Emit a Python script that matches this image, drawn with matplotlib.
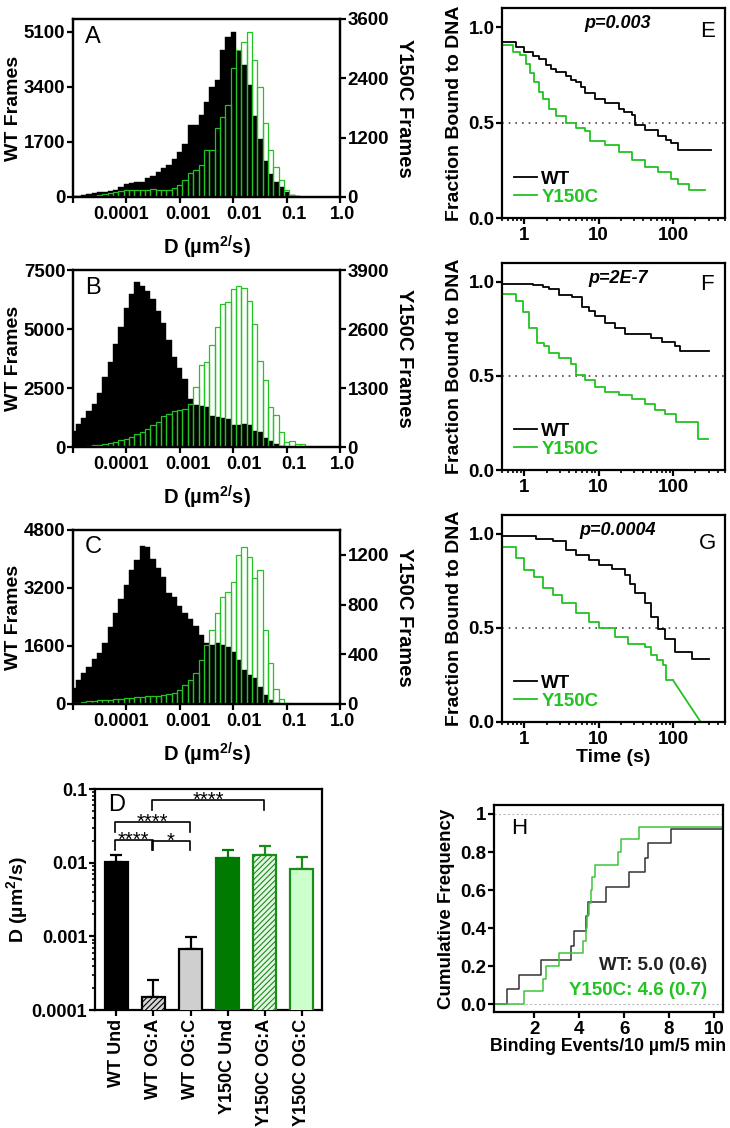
import matplotlib
matplotlib.use("Agg")
import matplotlib.pyplot as plt
import numpy as np
from matplotlib.ticker import NullLocator, LogLocator, NullFormatter
from matplotlib.transforms import ScaledTranslation

plt.rcParams['font.family'] = ['Liberation Sans', 'DejaVu Sans']
plt.rcParams['font.weight'] = 'bold'
plt.rcParams['axes.labelweight'] = 'bold'
plt.rcParams['axes.linewidth'] = 1.6
plt.rcParams['xtick.major.width'] = 1.6
plt.rcParams['ytick.major.width'] = 1.6
plt.rcParams['xtick.minor.width'] = 1.2
plt.rcParams['ytick.minor.width'] = 1.2
plt.rcParams['xtick.major.size'] = 4
plt.rcParams['ytick.major.size'] = 4
plt.rcParams['xtick.minor.size'] = 2.5
plt.rcParams['ytick.minor.size'] = 2.5
plt.rcParams['xtick.major.pad'] = 2.5
plt.rcParams['ytick.major.pad'] = 1.5
plt.rcParams['mathtext.fontset'] = 'custom'
plt.rcParams['mathtext.rm'] = 'Liberation Sans:bold'
plt.rcParams['mathtext.bf'] = 'Liberation Sans:bold'
plt.rcParams['mathtext.it'] = 'Liberation Sans:bold:italic'
plt.rcParams['hatch.linewidth'] = 0.8

GREEN = '#22c322'
DKGREEN = '#1a8c1a'

# ---- histograms (A-C): frames per bin, 10 bins per decade centred on 10^(-5 + k/10)
bin_exp = np.round(np.arange(-5.0, 0.001, 0.1), 2)

a_wt = [15, 30, 60, 90, 130, 140, 160, 190, 230, 300,
        390, 430, 470, 470, 580, 650, 770, 890, 1000, 1170,
        1400, 1640, 2220, 2220, 2530, 2940, 3400, 3620, 4540, 4950,
        5100, 4500, 4080, 3460, 2500, 1800, 1120, 700, 460, 300,
        160, 60, 15, 0, 0, 0, 0, 0, 0, 0, 0]
a_y150c = [0, 3, 5, 10, 20, 40, 60, 80, 100, 120,
           140, 150, 150, 140, 150, 160, 150, 140, 150, 180,
           240, 340, 480, 545, 650, 950, 950, 1390, 1620, 1860,
           2600, 2970, 3140, 3340, 2770, 2220, 1490, 950, 610, 340,
           140, 40, 10, 0, 0, 0, 0, 0, 0, 0, 0]

b_wt = [700, 990, 1250, 1520, 1830, 2300, 2950, 3620, 4350, 5080,
        5900, 6500, 6980, 6830, 6620, 6280, 5750, 5250, 4550, 3800,
        3350, 2900, 2050, 1800, 1740, 1700, 1300, 1270, 1250, 1200,
        950, 930, 970, 930, 700, 640, 400, 250, 120, 40,
        0, 0, 0, 0, 0, 0, 0, 0, 0, 0, 0]
b_y150c = [0, 5, 10, 30, 40, 50, 60, 80, 110, 150,
           180, 220, 290, 330, 400, 480, 550, 680, 730, 790,
           810, 840, 950, 1320, 1810, 1870, 2250, 2640, 3150, 3200,
           3480, 3540, 3500, 3225, 2710, 1905, 1466, 880, 700, 330,
           110, 125, 60, 73, 0, 0, 0, 0, 0, 0, 0]

c_wt = [450, 660, 850, 1030, 1240, 1400, 1675, 2130, 2500, 2890,
        3280, 3700, 3970, 4360, 4320, 3990, 3740, 3510, 3050, 2960,
        2700, 2500, 2330, 2150, 1900, 1675, 1630, 1675, 1630, 1580,
        1440, 1215, 940, 800, 720, 480, 250, 100, 30, 0,
        0, 0, 0, 0, 0, 0, 0, 0, 0, 0, 0]
c_y150c = [5, 10, 15, 20, 25, 30, 33, 36, 40, 44,
           48, 52, 55, 58, 62, 65, 68, 72, 78, 88,
           110, 150, 193, 247, 354, 475, 596, 730, 864, 904,
           985, 1200, 1260, 1186, 1012, 1079, 596, 333, 118, 40,
           10, 0, 0, 0, 0, 0, 0, 0, 0, 0, 0]

hist_panels = [
    ('A', a_wt, a_y150c, 5500, [0, 1700, 3400, 5100], 3600, [0, 1200, 2400, 3600]),
    ('B', b_wt, b_y150c, 7500, [0, 2500, 5000, 7500], 3900, [0, 1300, 2600, 3900]),
    ('C', c_wt, c_y150c, 4800, [0, 1600, 3200, 4800], 1400, [0, 400, 800, 1200]),
]
hist_rects = [[0.1, 0.8254, 0.3658, 0.1578],
              [0.1, 0.6037, 0.3658, 0.1569],
              [0.1, 0.3759, 0.3658, 0.1543]]
d_ticks = [1e-5, 1e-4, 1e-3, 1e-2, 1e-1, 1.0]
d_ticklabels = ['', '0.0001', '0.001', '0.01', '0.1', '1.0']
d_label_shift = [0, -5, 8, 11, 7, 2]   # px nudges, as in the source figure

# ---- panel D
d_groups = ['WT Und', 'WT OG:A', 'WT OG:C', 'Y150C Und', 'Y150C OG:A', 'Y150C OG:C']
d_means = [0.0102, 0.000152, 0.00067, 0.0117, 0.0126, 0.0083]
d_upper = [0.0129, 0.000256, 0.00097, 0.0147, 0.0168, 0.0119]
d_face = ['black', '#d6d6d6', '#cfcfcf', '#007a00', '#e4f7e4', '#ccffcc']
d_edge = ['black', 'black', 'black', '#007a00', DKGREEN, DKGREEN]
d_hatch = [None, '//////', None, None, '//////', None]
# (left bar, right bar, bracket height, leg bottom, label)
d_sig = [(0, 1, 0.0202, 0.0150, '****'),
         (1, 2, 0.0197, 0.0150, '*'),
         (0, 2, 0.0358, 0.0262, '****'),
         (1, 4, 0.0708, 0.0517, '****')]

# ---- panels E-G: fraction bound vs time (s)
e_wt_t = [0.5, 0.77, 1.0, 1.3, 1.58, 1.94, 2.3, 2.64, 3.6, 4.2, 4.9, 5.7, 6.6, 9.0,
          12.3, 18.5, 22, 27.8, 30.8, 42, 63, 80, 95, 116]
e_wt_f = [0.922, 0.896, 0.87, 0.85, 0.834, 0.8, 0.78, 0.763, 0.742, 0.725, 0.71, 0.685,
          0.657, 0.622, 0.604, 0.569, 0.555, 0.542, 0.489, 0.463, 0.428, 0.41, 0.392, 0.357]
e_wt_end = 320
e_mut_t = [0.5, 0.7, 0.86, 1.05, 1.2, 1.36, 1.55, 1.76, 2.15, 2.64, 3.6, 4.9, 6.6, 7.7,
           12.3, 18.5, 27.8, 42, 63, 95, 116, 166]
e_mut_f = [0.905, 0.87, 0.852, 0.807, 0.76, 0.71, 0.66, 0.622, 0.569, 0.534, 0.498, 0.472,
           0.454, 0.401, 0.383, 0.348, 0.304, 0.269, 0.242, 0.207, 0.18, 0.145]
e_mut_end = 265

f_wt_t = [0.5, 1.29, 1.76, 2.15, 2.93, 4.4, 6.0, 7.4, 9.0, 12.3, 16.7, 22.7, 51, 70, 105, 123]
f_wt_f = [0.99, 0.985, 0.973, 0.96, 0.928, 0.919, 0.865, 0.847, 0.82, 0.784, 0.757, 0.721,
          0.703, 0.68, 0.658, 0.631]
f_wt_end = 309
f_mut_t = [0.5, 0.77, 0.95, 1.17, 1.5, 1.85, 2.15, 2.93, 4.2, 4.9, 6.6, 9.0, 12.3, 18.5,
           27.8, 42, 57, 78, 111, 216]
f_mut_f = [0.933, 0.9, 0.838, 0.757, 0.676, 0.658, 0.622, 0.595, 0.563, 0.505, 0.478, 0.442,
           0.415, 0.397, 0.379, 0.353, 0.317, 0.299, 0.254, 0.164]
f_mut_end = 293

g_wt_t = [0.5, 1.43, 2.39, 3.6, 4.9, 7.4, 10, 15, 22.7, 26.5, 31, 42, 51, 63, 78, 105, 180]
g_wt_f = [0.986, 0.973, 0.959, 0.915, 0.888, 0.861, 0.834, 0.813, 0.78, 0.735, 0.683, 0.63,
          0.559, 0.496, 0.443, 0.37, 0.336]
g_wt_end = 309
g_mut_t = [0.5, 0.77, 1.0, 1.36, 1.76, 2.39, 3.24, 4.9, 7.4, 10, 16.7, 25, 42, 51, 60, 73, 81]
g_mut_f = [0.929, 0.87, 0.808, 0.772, 0.71, 0.674, 0.63, 0.577, 0.532, 0.5, 0.452, 0.416,
           0.40, 0.354, 0.33, 0.3, 0.221]
g_mut_end = 100
g_mut_last = (235, 0.0)   # final segment drawn straight to zero

surv_panels = [
    ('E', 'p=0.003', e_wt_t, e_wt_f, e_wt_end, e_mut_t, e_mut_f, e_mut_end),
    ('F', 'p=2E-7', f_wt_t, f_wt_f, f_wt_end, f_mut_t, f_mut_f, f_mut_end),
    ('G', 'p=0.0004', g_wt_t, g_wt_f, g_wt_end, g_mut_t, g_mut_f, g_mut_end),
]
surv_rects = [[0.6877, 0.8067, 0.3055, 0.1862],
              [0.6877, 0.5833, 0.3055, 0.1835],
              [0.6877, 0.3600, 0.3055, 0.1835]]
letter_y = [0.887, 0.894, 0.863]

# ---- panel H: binding events per 10 um per 5 min (cumulative)
h_wt_events = [0.8, 1.3, 2.3, 3.63, 3.75, 4.3, 4.4, 5.2, 6.2, 6.92, 7.04, 8.1]
h_wt_n = 13
h_mut_events = [1.55, 2.37, 2.5, 3.1, 4.18, 4.3, 4.36, 4.45, 4.5, 4.58, 4.7, 5.73, 5.85, 6.64]
h_mut_n = 15

fig = plt.figure(figsize=(7.3, 11.28), dpi=100)

# ---------- A, B, C
for (letter, wt, mut, ylim1, yt1, ylim2, yt2), rect in zip(hist_panels, hist_rects):
    ax = fig.add_axes(rect)
    ax.set_xscale('log')
    left = 10 ** (bin_exp - 0.05)
    right = 10 ** (bin_exp + 0.05)
    ax.bar(left, wt, width=right - left, align='edge', color='black',
           edgecolor='black', linewidth=0.3)
    ax.set_xlim(1e-5, 1.0)
    ax.set_ylim(0, ylim1)
    ax.set_yticks(yt1)
    ax.set_yticklabels([str(v) for v in yt1])
    ax.set_xticks(d_ticks)
    ax.set_xticklabels(d_ticklabels)
    ax.xaxis.set_minor_locator(NullLocator())
    ax.tick_params(axis='y', labelsize=13.5)
    ax.tick_params(axis='x', labelsize=13)
    for lab, dx in zip(ax.get_xticklabels(), d_label_shift):
        lab.set_transform(lab.get_transform() + ScaledTranslation(dx / 100, 0, fig.dpi_scale_trans))
    ax.set_ylabel('WT Frames', fontsize=14, labelpad=1)
    ax.set_xlabel(r'D (µm$^{2/}$s)', fontsize=14.5, labelpad=8)
    ax.text(0.045, 0.9, letter, transform=ax.transAxes, fontsize=17,
            fontweight='normal', va='center', ha='left')

    ax2 = ax.twinx()
    ax2.bar(left, mut, width=right - left, align='edge', fill=False,
            edgecolor=GREEN, linewidth=0.9)
    ax2.set_xlim(1e-5, 1.0)
    ax2.set_ylim(0, ylim2)
    ax2.set_yticks(yt2)
    ax2.set_yticklabels([str(v) for v in yt2])
    ax2.tick_params(labelsize=13.5)
    ax2.set_ylabel('Y150C Frames', fontsize=14.5, rotation=270, va='bottom', labelpad=4)

# ---------- D
axd = fig.add_axes([0.1301, 0.1046, 0.311, 0.1959])
xpos = np.arange(len(d_groups))
for i in range(len(d_groups)):
    axd.bar(xpos[i], d_means[i], width=0.62, color=d_face[i], edgecolor=d_edge[i],
            linewidth=1.6, hatch=d_hatch[i], zorder=3)
    axd.errorbar(xpos[i], d_means[i], yerr=[[0], [d_upper[i] - d_means[i]]],
                 fmt='none', ecolor=d_edge[i], elinewidth=1.6, capsize=4,
                 capthick=1.6, zorder=2)
axd.set_yscale('log')
axd.set_ylim(1e-4, 0.1)
axd.set_xlim(-0.58, 5.55)
axd.set_yticks([1e-4, 1e-3, 1e-2, 1e-1])
axd.set_yticklabels(['0.0001', '0.001', '0.01', '0.1'])
axd.yaxis.set_minor_locator(LogLocator(base=10, subs=np.arange(2, 10)))
axd.yaxis.set_minor_formatter(NullFormatter())
axd.set_xticks(xpos)
axd.set_xticklabels(d_groups, rotation=90, fontsize=13)
axd.tick_params(axis='y', labelsize=13)
axd.set_ylabel(r'D (µm$^{2}$/s)', fontsize=14, labelpad=1)
for x0, x1, ytop, yleg, lab in d_sig:
    a = x0 - 0.04
    b = x1 - 0.02
    axd.plot([a, a, b, b], [yleg, ytop, ytop, yleg], color='black', lw=1.2,
             zorder=4, clip_on=False)
    axd.text((a + b) / 2, ytop * 0.83, lab, ha='center', va='baseline',
             fontsize=14.5, fontweight='normal')
axd.text(0.06, 0.93, 'D', transform=axd.transAxes, fontsize=17, fontweight='normal',
         va='center', ha='left')

# ---------- E, F, G
for (letter, ptxt, wt_t, wt_f, wt_end, mt_t, mt_f, mt_end), rect, ly in zip(
        surv_panels, surv_rects, letter_y):
    ax = fig.add_axes(rect)
    ax.set_xscale('log')
    ax.axhline(0.5, color='#444444', ls=(0, (1, 3)), lw=1.2)
    ax.step(wt_t + [wt_end], wt_f + [wt_f[-1]], where='post', color='black', lw=1.3,
            label='WT')
    ax.step(mt_t + [mt_end], mt_f + [mt_f[-1]], where='post', color=GREEN, lw=1.3,
            label='Y150C')
    if letter == 'G':
        ax.plot([mt_end, g_mut_last[0]], [mt_f[-1], g_mut_last[1]], color=GREEN, lw=1.3,
                clip_on=False)
    ax.set_xlim(0.5, 500)
    ax.set_ylim(0, 1.1)
    ax.set_yticks([0, 0.5, 1.0])
    ax.set_yticklabels(['0.0', '0.5', '1.0'])
    ax.set_xticks([1, 10, 100])
    ax.set_xticklabels(['1', '10', '100'])
    ax.xaxis.set_minor_locator(LogLocator(base=10, subs=np.arange(2, 10)))
    ax.xaxis.set_minor_formatter(NullFormatter())
    ax.tick_params(labelsize=13.5)
    ax.set_ylabel('Fraction Bound to DNA', fontsize=14, labelpad=4)
    ax.text(0.52, 0.925, ptxt, transform=ax.transAxes, fontsize=13, style='italic',
            ha='center', va='center')
    ax.text(0.92, ly, letter, transform=ax.transAxes, fontsize=16, fontweight='normal',
            ha='center', va='center')
    ax.legend(loc='lower left', frameon=False, fontsize=13.5, handlelength=1.2,
              handletextpad=0.25, labelspacing=0.05, borderaxespad=0.25,
              labelcolor='linecolor')
    if letter == 'G':
        ax.set_xlabel('Time (s)', fontsize=14, labelpad=1)

# ---------- H
axh = fig.add_axes([0.6767, 0.1028, 0.3137, 0.1835])
axh.axhline(0, color='#bbbbbb', ls=(0, (2, 2)), lw=0.8)
axh.axhline(1, color='#bbbbbb', ls=(0, (2, 2)), lw=0.8)
wt_y = [i / h_wt_n for i in range(1, len(h_wt_events) + 1)]
mt_y = [i / h_mut_n for i in range(1, len(h_mut_events) + 1)]
axh.step([0.2] + h_wt_events + [10.4], [0] + wt_y + [wt_y[-1]], where='post',
         color='#333333', lw=1.1)
axh.step([0.2] + h_mut_events + [10.4], [0] + mt_y + [mt_y[-1]], where='post',
         color='#3fc43f', lw=1.1)
axh.set_xlim(0.2, 10.4)
axh.set_ylim(-0.042, 1.047)
axh.set_xticks([2, 4, 6, 8, 10])
axh.set_yticks([0, 0.2, 0.4, 0.6, 0.8, 1.0])
axh.set_yticklabels(['0.0', '0.2', '0.4', '0.6', '0.8', '1'])
axh.tick_params(labelsize=13.5)
axh.set_ylabel('Cumulative Frequency', fontsize=13.5, labelpad=4)
axh.set_xlabel('Binding Events/10 µm/5 min', fontsize=12.8, labelpad=0)
axh.text(0.077, 0.889, 'H', transform=axh.transAxes, fontsize=16, fontweight='normal',
         va='center', ha='left')
axh.text(0.93, 0.227, 'WT: 5.0 (0.6)', transform=axh.transAxes, fontsize=13.5,
         ha='right', va='center', color='#222222')
axh.text(0.93, 0.106, 'Y150C: 4.6 (0.7)', transform=axh.transAxes, fontsize=13.5,
         ha='right', va='center', color=GREEN)

fig.savefig('out.png', dpi=100)
